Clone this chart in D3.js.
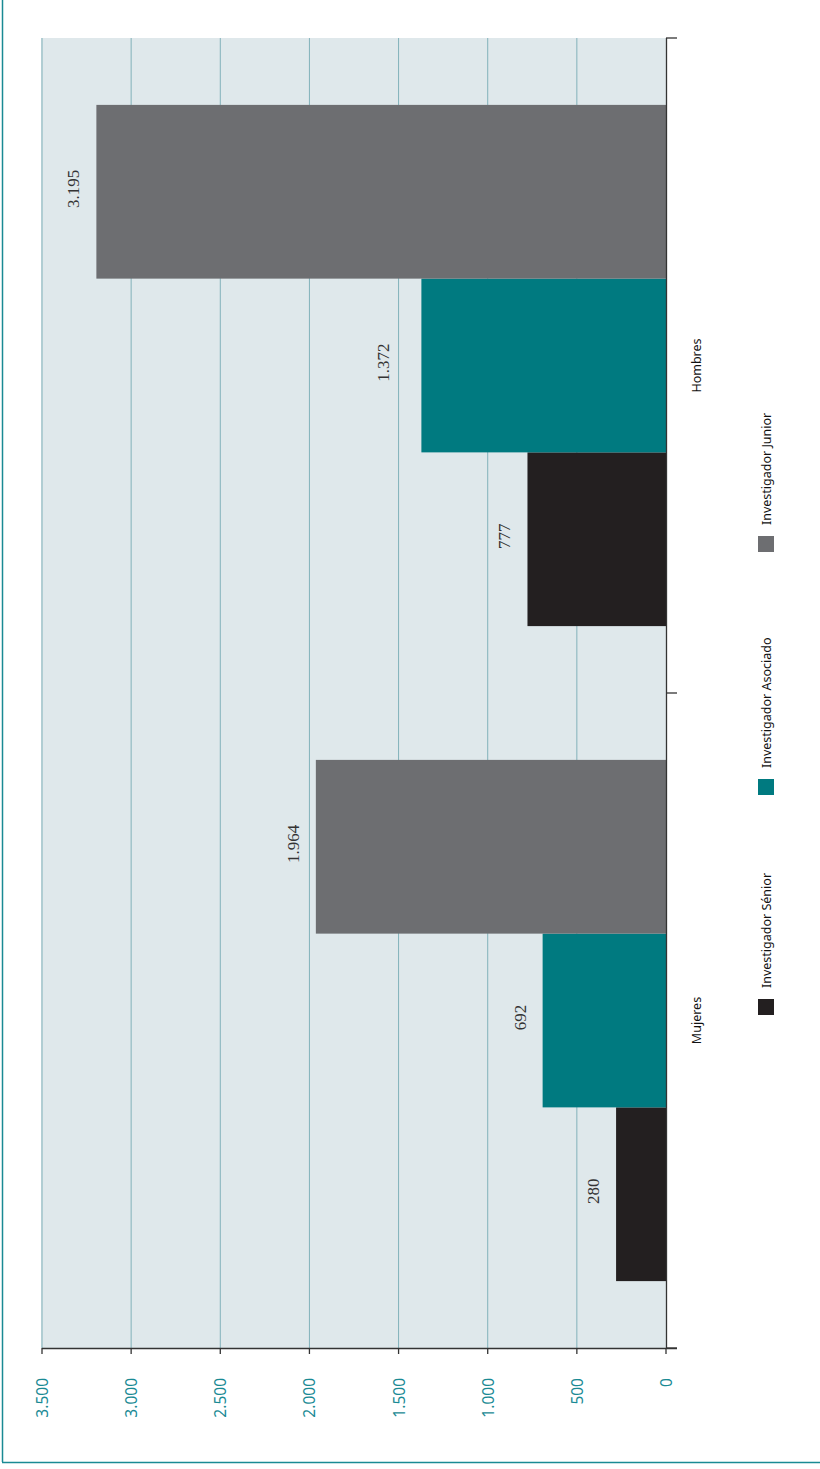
<!DOCTYPE html>
<html><head><meta charset="utf-8">
<script src="https://cdn.jsdelivr.net/npm/d3@7"></script>
<style>body{margin:0;background:#fff}svg{display:block}</style>
</head><body>
<svg id="c" width="820" height="1469"></svg>
<script>
const categories = ["Hombres", "Mujeres"];
const series = ["Investigador Sénior", "Investigador Asociado", "Investigador Junior"];
const senior = [777, 280];
const asociado = [1372, 692];
const junior = [3195, 1964];
const ticks = [0, 500, 1000, 1500, 2000, 2500, 3000, 3500];
const colors = ["#231f20", "#007a80", "#6d6e71"];

const values = [senior, asociado, junior];
const svg = d3.select("#c");
const fmt = v => d3.format(",")(v).replace(/,/g, ".");

// page-coordinate scales (chart is rotated 90°)
const x = d3.scaleLinear().domain([0, 3500]).range([666, 42]);
const y = d3.scaleBand().domain(categories).range([38, 1348]).padding(0);
const inner = d3.scaleBand().domain(series).range([y.bandwidth(), 0]).paddingInner(0).paddingOuter(0.385);

// border
svg.append("line").attr("x1", 2.5).attr("x2", 2.5).attr("y1", 0).attr("y2", 1462).attr("stroke", "#1a8a94").attr("stroke-width", 1.5);
svg.append("line").attr("x1", 2).attr("x2", 820).attr("y1", 1462.5).attr("y2", 1462.5).attr("stroke", "#1a8a94").attr("stroke-width", 1.5);

// plot background
svg.append("rect").attr("x", 41).attr("y", 38).attr("width", 625).attr("height", 1310).attr("fill", "#dfe8eb");

// gridlines
svg.append("g").selectAll("line").data(ticks.filter(t => t > 0)).join("line")
  .attr("x1", d => x(d)).attr("x2", d => x(d)).attr("y1", 38).attr("y2", 1348)
  .attr("stroke", "#82b2ba").attr("stroke-width", 1);

// bars
categories.forEach((c, ci) => {
  series.forEach((s, si) => {
    const v = values[si][ci];
    const y0 = y(c) + inner(s);
    svg.append("rect").attr("x", x(v)).attr("y", y0).attr("width", x(0) - x(v)).attr("height", inner.bandwidth())
      .attr("fill", colors[si]);
    const gap = (ci === 0 && si === 1) ? 32 : 17;
    const cy = y0 + inner.bandwidth() / 2 - 3, cx = x(v) - gap;
    svg.append("text").attr("transform", `translate(${cx},${cy}) rotate(-90)`)
      .attr("text-anchor", "middle").attr("font-family", "Liberation Serif, serif").attr("font-size", 17)
      .attr("fill", "#333").text(fmt(v));
  });
});

// value axis (bottom in page)
const ax = svg.append("g").attr("stroke", "#333").attr("stroke-width", 1.3);
ax.append("line").attr("x1", 42).attr("x2", 677).attr("y1", 1348.5).attr("y2", 1348.5);
ax.selectAll(".vt").data(ticks).join("line").attr("class", "vt")
  .attr("x1", d => x(d)).attr("x2", d => x(d)).attr("y1", 1348).attr("y2", 1354);
svg.append("g").selectAll("text").data(ticks).join("text")
  .attr("transform", d => `translate(${x(d) + 6},1378) rotate(-90)`)
  .attr("text-anchor", "end").attr("font-family", "Noto Sans, sans-serif").attr("font-size", 15.5)
  .attr("fill", "#1a8a94").text(fmt);

// category axis (right in page)
ax.append("line").attr("x1", 666.5).attr("x2", 666.5).attr("y1", 38).attr("y2", 1349);
const catTicks = [38, ...categories.map(c => y(c) + y.bandwidth())];
ax.selectAll(".ct").data(catTicks).join("line").attr("class", "ct")
  .attr("x1", 666).attr("x2", 677).attr("y1", d => d).attr("y2", d => d);
svg.append("g").selectAll("text").data(categories).join("text")
  .attr("transform", c => `translate(${701},${y(c) + y.bandwidth() / 2}) rotate(-90)`)
  .attr("text-anchor", "middle").attr("font-family", "Noto Sans, sans-serif").attr("font-size", 12.5)
  .attr("fill", "#111").text(c => c);

// legend
const legY = [1015, 795, 552];
series.forEach((s, i) => {
  svg.append("rect").attr("x", 758).attr("y", legY[i] - 16).attr("width", 16).attr("height", 16).attr("fill", colors[i]);
  svg.append("text").attr("transform", `translate(${771},${legY[i] - 27}) rotate(-90)`)
    .attr("font-family", "Noto Sans, sans-serif").attr("font-size", 12.5).attr("fill", "#111").text(s);
});
</script>
</body></html>
